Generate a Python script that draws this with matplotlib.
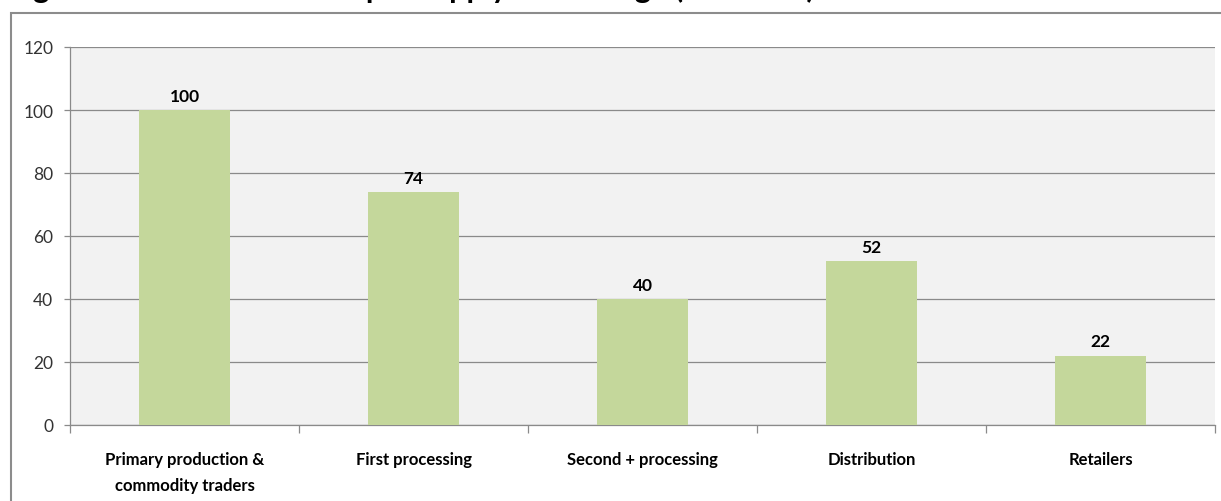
import matplotlib.pyplot as plt
from matplotlib.patches import Rectangle
import numpy as np

# Index values per supply chain stage (primary production = 100)
stages = ["Primary production &\ncommodity traders", "First processing",
          "Second + processing", "Distribution", "Retailers"]
index_values = [100, 74, 40, 52, 22]
y_ticks = [0, 20, 40, 60, 80, 100, 120]

plt.rcParams['font.family'] = ['Lato', 'DejaVu Sans']

fig = plt.figure(figsize=(12.21, 5.02), dpi=100)
ax = fig.add_axes([70 / 1221, 76 / 502, 1145 / 1221, 378 / 502])
ax.set_facecolor('#f2f2f2')

x = np.arange(len(stages))
bars = ax.bar(x, index_values, width=0.40, color='#c4d79b', zorder=3)

for b, v in zip(bars, index_values):
    ax.text(b.get_x() + b.get_width() / 2, v + 2.0, str(v), ha='center', va='bottom',
            fontsize=12.5, fontweight='bold', color='black', zorder=4)

ax.set_xlim(-0.5, len(stages) - 0.5)
ax.set_ylim(0, 120)
ax.set_yticks(y_ticks)
ax.yaxis.grid(True, color='#8a8a8a', linewidth=0.9, zorder=1)
ax.set_axisbelow(True)

# category labels at the centres, tick marks at the boundaries
ax.set_xticks(x)
ax.set_xticklabels(stages, fontsize=12, fontweight='bold', linespacing=1.75)
ax.set_xticks(np.arange(len(stages) + 1) - 0.5, minor=True)
ax.tick_params(axis='x', which='major', length=0, pad=19)
ax.tick_params(axis='x', which='minor', length=6, width=0.9, color='#8a8a8a')
ax.tick_params(axis='y', length=4, width=0.9, color='#8a8a8a', labelsize=12.5,
               labelcolor='#333333', pad=8)

for s in ['top', 'right']:
    ax.spines[s].set_visible(False)
for s in ['left', 'bottom']:
    ax.spines[s].set_color('#8a8a8a')
    ax.spines[s].set_linewidth(0.9)

# chart frame
fig.patches.append(Rectangle((10.5 / 1221, -0.1), 1.2, 1.1 - 13.5 / 502,
                             transform=fig.transFigure, fill=False,
                             edgecolor='#8c8c8c', linewidth=1.5))

fig.text(8 / 1221, 1 + 2 / 502, "Figure 3: Number of firms per supply chain stage (PP = 100)",
         fontsize=22, fontweight='bold', ha='left', va='baseline')

fig.savefig('out.png', dpi=100)
